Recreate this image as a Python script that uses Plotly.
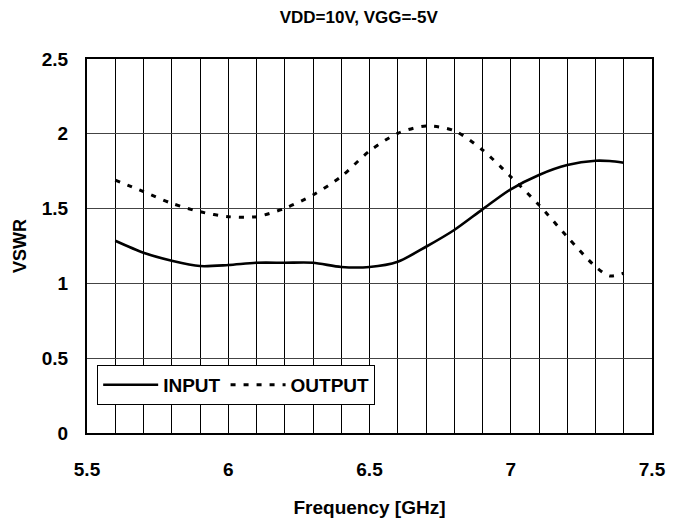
import plotly.graph_objects as go

# Frequency points (GHz)
freq = [5.6, 5.7, 5.8, 5.9, 6.0, 6.1, 6.2, 6.3, 6.4, 6.5,
        6.6, 6.7, 6.8, 6.9, 7.0, 7.1, 7.2, 7.3, 7.35, 7.4]

# VSWR values
vswr_input = [1.285, 1.205, 1.152, 1.116, 1.123, 1.138, 1.138, 1.138, 1.110, 1.110,
              1.145, 1.245, 1.357, 1.495, 1.629, 1.725, 1.791, 1.820, 1.818, 1.807]
vswr_output = [1.691, 1.613, 1.535, 1.479, 1.446, 1.446, 1.502, 1.591, 1.715, 1.885,
               2.003, 2.052, 2.021, 1.892, 1.713, 1.524, 1.312, 1.112, 1.050, 1.068]

FONT = "Arial, Liberation Sans, sans-serif"

fig = go.Figure()

fig.add_trace(go.Scatter(
    x=freq, y=vswr_input,
    mode='lines',
    name='<b>INPUT</b>',
    line=dict(color='black', width=2.6, shape='spline', smoothing=0.8),
))

fig.add_trace(go.Scatter(
    x=freq, y=vswr_output,
    mode='lines',
    name='<b>OUTPUT</b>',
    line=dict(color='black', width=3, dash='5px,8px', shape='spline', smoothing=0.8),
))

# page body adds an 8px margin, so the figure is 8px smaller than the window
fig.update_layout(
    width=670,
    height=513,
    margin=dict(l=79, r=26, t=51, b=88),
    paper_bgcolor='white',
    plot_bgcolor='white',
    font=dict(family=FONT, size=19, color='black'),
    title=dict(
        text='<b>VDD=10V, VGG=-5V</b>',
        x=0.481, xref='paper', xanchor='center',
        y=0.983, yref='container', yanchor='middle',
        font=dict(size=17, family=FONT, color='black'),
    ),
    xaxis=dict(
        range=[5.5, 7.5],
        dtick=0.5,
        tick0=5.5,
        showgrid=True,
        gridcolor='black',
        gridwidth=1,
        minor=dict(dtick=0.1, showgrid=True, gridcolor='black', gridwidth=1),
        showline=True,
        linecolor='black',
        linewidth=2,
        mirror=True,
        zeroline=False,
        ticks='',
        automargin=False,
        ticklabelstandoff=18,
        tickfont=dict(size=19, family=FONT, color='black', weight='bold'),
        title=dict(text='<b>Frequency [GHz]</b>', font=dict(size=19, family=FONT, color='black'),
                   standoff=22),
    ),
    yaxis=dict(
        range=[0, 2.5],
        dtick=0.5,
        showgrid=True,
        gridcolor='#444444',
        gridwidth=1,
        showline=True,
        linecolor='black',
        linewidth=2,
        mirror=True,
        zeroline=False,
        ticks='',
        automargin=False,
        ticklabelstandoff=13,
        tickfont=dict(size=19, family=FONT, color='black', weight='bold'),
        title=dict(text='<b>VSWR</b>', font=dict(size=18, family=FONT, color='black'),
                   standoff=10),
    ),
    legend=dict(
        orientation='h',
        x=0.018, xanchor='left',
        y=0.075, yanchor='bottom',
        bgcolor='white',
        bordercolor='black',
        borderwidth=1,
        font=dict(size=19, family=FONT, color='black'),
        itemwidth=55,
        tracegroupgap=0,
    ),
    showlegend=True,
)

fig.write_html("out.html")
